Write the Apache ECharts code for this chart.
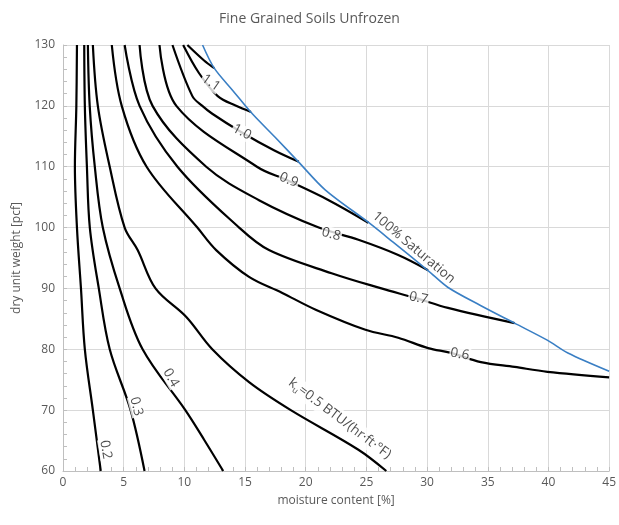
<!DOCTYPE html>
<html>
<head>
<meta charset="utf-8">
<script src="https://cdn.jsdelivr.net/npm/echarts@6/dist/echarts.min.js"></script>
<style>
  html, body { margin: 0; padding: 0; background: #fff; }
  #chart { width: 619px; height: 525px; }
</style>
</head>
<body>
<div id="chart"></div>
<script>
// axis ticks
const xTicks = [0, 5, 10, 15, 20, 25, 30, 35, 40, 45];
const yTicks = [60, 70, 80, 90, 100, 110, 120, 130];

// contour lines of ku, [moisture %, dry unit weight pcf]
const k02 = [[1.15,130],[1.10,120],[0.98,110],[1.15,100],[1.48,90],[1.80,80],[2.46,70],[3.11,60]];
const k03 = [[1.75,130],[1.80,120],[1.97,110],[2.21,100],[2.95,90],[3.85,80],[5.57,70],[6.72,60]];
const k04 = [[2.05,130],[2.20,120],[2.62,110],[3.28,100],[4.67,90],[6.56,80],[10.08,70],[11.64,65.1],[13.20,60]];
const k05 = [[2.46,130],[2.87,120],[3.85,110],[5.08,100],[6.15,96.3],[7.62,90],[10.16,85.3],[12.3,80],[15.33,74.6],[18.77,70],[24.34,63.5],[26.64,60]];
const k06 = [[4.02,130],[4.84,120],[6.89,110],[11.07,100],[12.62,96.3],[15.33,91.9],[18.03,89.3],[20.82,86.5],[24.92,83.2],[27.62,81.9],[30.08,80.2],[31.97,79.4],[34.43,77.9],[37.21,77.1],[39.92,76.3],[45,75.4]];
const k07 = [[5.08,130],[6.31,120],[9.43,110],[14.51,100],[16.97,96.3],[22.13,92.5],[26.23,90],[29.10,88.4],[31.72,86.8],[37.21,84.3]];
const k08 = [[6.31,130],[7.38,120],[11.80,110],[16.15,104.5],[21.07,100],[24.34,98.0],[27.62,95.5],[30.08,93.0]];
const k09 = [[7.95,130],[9.34,120],[15.98,110],[18.44,107.8],[21.89,104.5],[25.16,100.8]];
const k10 = [[9.02,130],[10.66,121.6],[11.48,120],[12.30,118.7],[14.67,115.7],[17.38,112.7],[19.43,110.8]];
const k11 = [[9.90,130],[11.2,125.4],[12.75,121.6],[14.26,120],[15.49,119.0]];
const k12 = [[10.25,130],[11.6,127.5],[12.46,126.2]];

// 100% saturation line
const saturation = [[11.5,130],[12.46,126.2],[14.0,122.5],[15.6,118.7],[17.5,114.8],[19.4,110.8],[21.6,106.2],[25.2,100.8],[27.2,97.6],[30.1,92.9],[31.7,90.2],[34.4,87.2],[37.2,84.3],[39.9,81.5],[41.6,79.4],[45,76.4]];

// curve labels: text, anchor [x, y], angle
const labelText = ['1.1', '1.0', '0.9', '0.8', '0.7', '0.6', '{k|k}{s|u}{k|=0.5 BTU/(hr·ft·°F)}', '0.4', '0.3', '0.2', '100% Saturation'];
const labelAt = [[12.2,123.8],[14.75,115.7],[18.6,107.8],[22.1,98.9],[29.3,88.4],[32.7,79.2],[22.8,68.6],[8.9,75.3],[6.04,70.6],[3.52,63.5],[28.9,96.7]];
const labelAngle = [-35, -28, -22, -15, -12, -10, -37, -60, -75, -80, -40];

const contours = [k02, k03, k04, k05, k06, k07, k08, k09, k10, k11, k12];

let chart = echarts.init(document.getElementById('chart'));

let series = [];
for (let i = 0; i < contours.length; i++) {
    series.push({
        type: 'line',
        data: contours[i],
        smooth: 0.35,
        showSymbol: false,
        lineStyle: { color: '#000', width: 2.2 },
        z: 2
    });
}
series.push({
    type: 'line',
    data: saturation,
    smooth: 0.3,
    showSymbol: false,
    lineStyle: { color: '#3a7fc4', width: 1.6 },
    z: 3
});
series.push({
    type: 'scatter',
    symbolSize: 0,
    z: 5,
    data: labelAt.map(function (p, i) {
        return {
            value: p,
            label: { formatter: labelText[i], rotate: labelAngle[i] }
        };
    }),
    label: {
        show: true,
        position: 'inside',
        color: '#1a1a1a',
        fontFamily: 'Open Sans',
        fontSize: 13.5,
        backgroundColor: '#fff',
        padding: [0, 1],
        rich: {
            k: { fontFamily: 'Open Sans', fontSize: 13.5, color: '#1a1a1a' },
            s: { fontFamily: 'Open Sans', fontSize: 8.5, color: '#1a1a1a', padding: [9, 0, 0, 0] }
        }
    }
});

option = {
    animation: false,
    backgroundColor: '#fff',
    title: {
        text: 'Fine Grained Soils Unfrozen',
        left: 'center',
        top: 7,
        textStyle: { fontFamily: 'Open Sans', fontSize: 14, fontWeight: 'normal', color: '#595959' }
    },
    grid: { left: 63, right: 7, top: 45, bottom: 54 },
    xAxis: {
        type: 'value',
        min: xTicks[0],
        max: xTicks[xTicks.length - 1],
        interval: 5,
        name: 'moisture content [%]',
        nameLocation: 'middle',
        nameGap: 24,
        nameTextStyle: { fontFamily: 'Open Sans', fontSize: 12, color: '#595959' },
        axisLine: { show: true, lineStyle: { color: '#bfbfbf' } },
        axisTick: { show: true, inside: true, length: 4, lineStyle: { color: '#bfbfbf' } },
        minorTick: { show: true, splitNumber: 5, length: 4, lineStyle: { color: '#bfbfbf' } },
        splitLine: { show: true, lineStyle: { color: '#d9d9d9' } },
        axisLabel: { fontFamily: 'Open Sans', fontSize: 12, color: '#595959', margin: 6 }
    },
    yAxis: {
        type: 'value',
        min: yTicks[0],
        max: yTicks[yTicks.length - 1],
        interval: 10,
        name: 'dry unit weight [pcf]',
        nameLocation: 'middle',
        nameGap: 40,
        nameTextStyle: { fontFamily: 'Open Sans', fontSize: 12, color: '#595959' },
        axisLine: { show: true, lineStyle: { color: '#bfbfbf' } },
        axisTick: { show: true, inside: true, length: 4, lineStyle: { color: '#bfbfbf' } },
        minorTick: { show: true, splitNumber: 5, length: 4, lineStyle: { color: '#bfbfbf' } },
        splitLine: { show: true, lineStyle: { color: '#d9d9d9' } },
        axisLabel: { fontFamily: 'Open Sans', fontSize: 12, color: '#595959', margin: 8 }
    },
    series: series
};
chart.setOption(option);
</script>
</body>
</html>
